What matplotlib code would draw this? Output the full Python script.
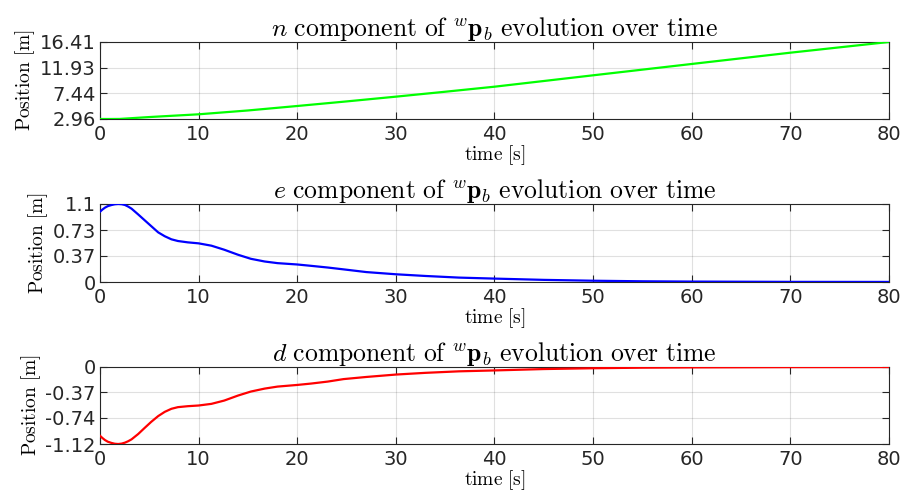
import matplotlib.pyplot as plt

plt.rcParams['mathtext.fontset'] = 'cm'
plt.rcParams['font.family'] = 'DejaVu Sans'

# n component
t_n = [0, 1, 2, 5, 10, 15, 20, 25, 30, 35, 40, 50, 60, 70, 80]
p_n = [2.96, 2.96, 2.97, 3.3, 3.78, 4.45, 5.23, 6.03, 6.86, 7.72, 8.60, 10.59, 12.57, 14.54, 16.41]

# e component
t_e = [0, 0.25, 0.5, 0.8, 1.18, 1.5, 1.85, 2.2, 2.53, 2.85, 3.2, 3.87, 4.55, 5.2, 5.9, 6.57,
       7.24, 7.9, 8.9, 10, 11.3, 12.6, 14, 15.3, 16.7, 18, 20, 21.4, 23.1, 24.7, 27, 30,
       33, 36.4, 40, 45, 50, 55, 60, 70, 80]
p_e = [0.991, 1.022, 1.048, 1.07, 1.086, 1.096, 1.10, 1.097, 1.086, 1.064, 1.034, 0.953,
       0.868, 0.787, 0.70, 0.645, 0.602, 0.578, 0.559, 0.545, 0.512, 0.455, 0.384, 0.327,
       0.289, 0.266, 0.247, 0.228, 0.204, 0.178, 0.140, 0.109, 0.085, 0.062, 0.048, 0.03,
       0.018, 0.01, 0.006, 0.002, 0.001]

# d component
t_d = t_e
p_d = [-1.0, -1.033, -1.062, -1.087, -1.105, -1.116, -1.12, -1.114, -1.10, -1.08, -1.052,
       -0.975, -0.883, -0.797, -0.714, -0.652, -0.608, -0.584, -0.57, -0.56, -0.536, -0.488,
       -0.415, -0.357, -0.314, -0.285, -0.261, -0.241, -0.212, -0.176, -0.145, -0.11, -0.085,
       -0.063, -0.05, -0.03, -0.018, -0.01, -0.006, -0.002, -0.001]

y_ticks = [[2.96, 7.44, 11.93, 16.41], [0, 0.37, 0.73, 1.1], [-1.12, -0.74, -0.37, 0]]
y_labels = [['2.96', '7.44', '11.93', '16.41'], ['0', '0.37', '0.73', '1.1'],
            ['-1.12', '-0.74', '-0.37', '0']]
names = ['n', 'e', 'd']
colors = ['#00ff00', '#0000ff', '#ff0000']
x_ticks = [0, 10, 20, 30, 40, 50, 60, 70, 80]

fig = plt.figure(figsize=(9.09, 4.95), dpi=100)
boxes = [[0.110, 0.7596, 0.868, 0.1556],
         [0.110, 0.4303, 0.868, 0.1576],
         [0.110, 0.1030, 0.868, 0.1556]]
series = [(t_n, p_n), (t_e, p_e), (t_d, p_d)]

dark = '#262626'
for i in range(3):
    ax = fig.add_axes(boxes[i])
    t, p = series[i]
    ax.plot(t, p, color=colors[i], linewidth=1.6, zorder=3)
    ax.set_xlim(0, 80)
    ax.set_ylim(y_ticks[i][0], y_ticks[i][-1])
    ax.set_xticks(x_ticks)
    ax.set_yticks(y_ticks[i])
    ax.set_yticklabels(y_labels[i])
    ax.grid(True, color='#000000', alpha=0.12, linewidth=0.8)
    ax.set_axisbelow(True)
    ax.tick_params(direction='in', top=True, right=True, length=5, width=0.8,
                   colors=dark, labelsize=14, pad=3)
    ax.tick_params(axis='x', pad=4)
    for s in ax.spines.values():
        s.set_color(dark)
        s.set_linewidth(0.8)
    ax.set_title(r'$%s\ \mathrm{component\ of}\ {}^{w}\mathbf{p}_b\ \mathrm{evolution\ over\ time}$' % names[i],
                 fontsize=18.5, pad=4)
    ax.set_xlabel(r'$\mathrm{time\ [s]}$', fontsize=14, labelpad=0)
    ax.set_ylabel(r'$\mathrm{Position\ [m]}$', fontsize=14, labelpad=2)

plt.savefig('out.png', dpi=100)
